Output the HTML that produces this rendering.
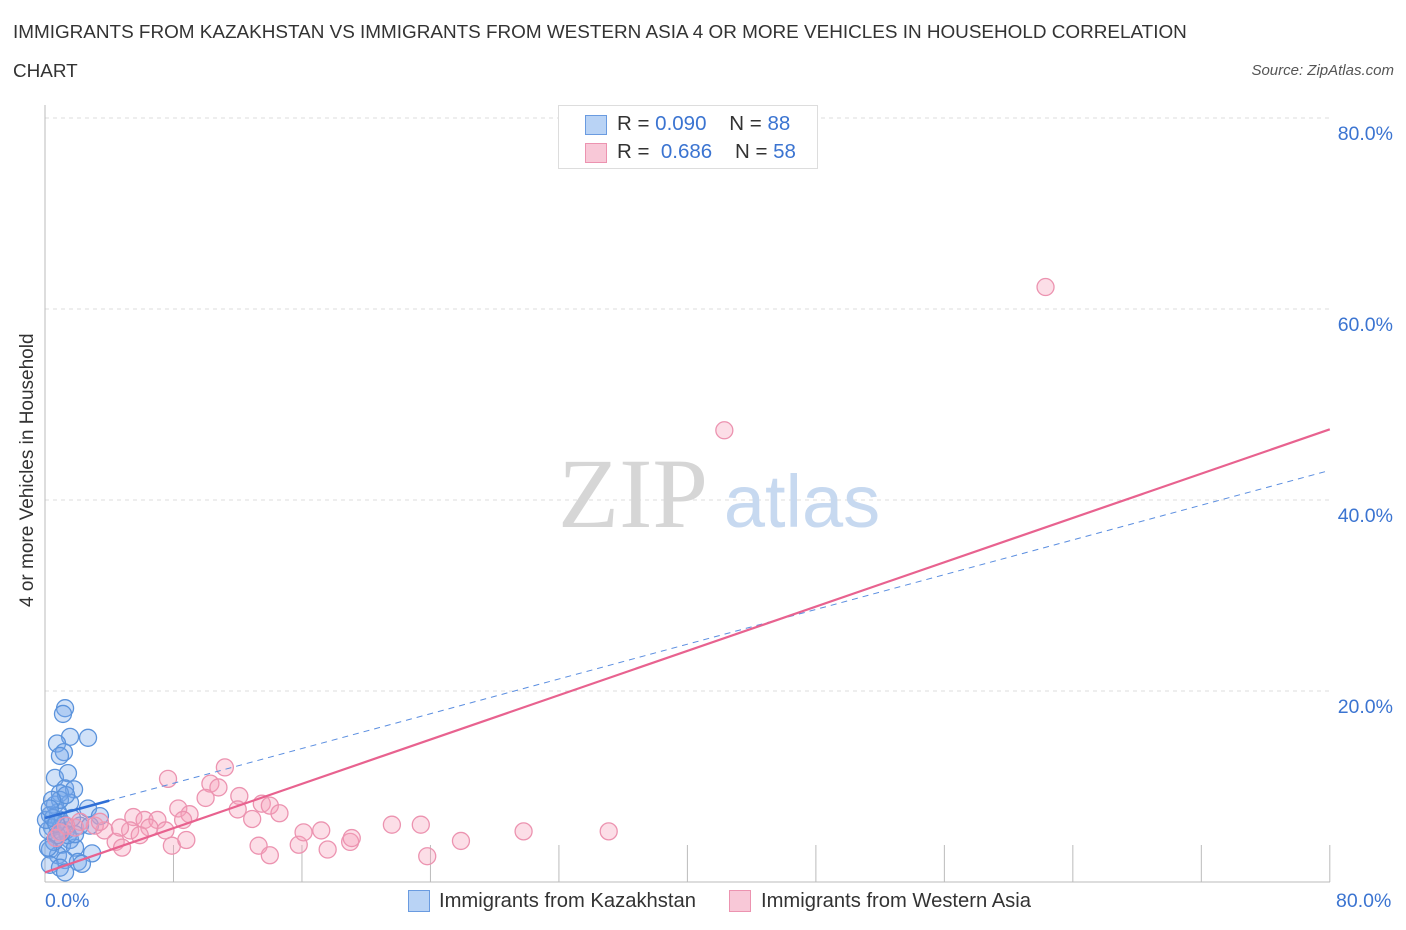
<!DOCTYPE html>
<html><head><meta charset="utf-8"><style>
body{margin:0;background:#fff;font-family:"Liberation Sans",sans-serif;}
#wrap{position:relative;width:1406px;height:930px;overflow:hidden}
.t{position:absolute;color:#333;font-size:18.9px}
</style></head><body><div id="wrap">
<div class="t" style="left:13px;top:22px">IMMIGRANTS FROM KAZAKHSTAN VS IMMIGRANTS FROM WESTERN ASIA 4 OR MORE VEHICLES IN HOUSEHOLD CORRELATION</div>
<div class="t" style="left:13px;top:61px">CHART</div>
<div class="t" style="right:12px;top:62px;font-size:15px;font-style:italic;color:#555">Source: ZipAtlas.com</div>
<svg id="svg" width="1406" height="930" style="position:absolute;left:0;top:0"></svg>
</div>
<script>
const blueX=[1.25,1.12,2.68,1.56,0.75,1.18,0.93,0.62,1.43,1.25,1.81,0.93,1.56,0.62,2.68,3.42,0.31,0.93,0.44,1.31,2.18,0.68,1.56,1.06,0.31,1.87,0.81,2.93,1.25,2.05,0.31,0.93,2.3,1.25,0.19,0.81,1.68,1.18,0.56,1.43,0.06,2.8,0.93,1.31,0.44,0.75,1.06,1.87,0.19,0.5,0.3,0.7];
const blueY=[18.2,17.6,15.1,15.2,14.5,13.6,13.2,10.9,11.4,9.8,9.7,9.3,8.3,8.1,7.7,6.9,7.0,6.5,5.7,5.4,5.9,4.6,4.4,3.9,3.4,3.6,2.8,3.0,2.3,2.1,1.8,1.5,1.9,1.0,5.4,7.3,6.7,6.0,4.2,4.9,6.5,5.9,8.6,9.1,8.6,4.9,5.2,5.0,3.6,6.7,7.7,6.1];
const pinkX=[62.3,42.3,7.66,11.2,10.3,10.8,12.1,10.0,8.3,9.0,13.5,14.0,14.6,12.0,12.9,5.5,6.2,7.0,6.5,7.5,8.6,5.3,3.7,3.1,4.4,4.8,7.9,8.8,13.3,14.0,15.8,16.1,17.2,17.6,19.0,19.1,21.6,23.4,23.8,25.9,29.8,35.1,1.87,2.18,0.93,1.31,0.68,3.42,4.67,5.9];
const pinkY=[62.3,47.3,10.8,12.0,10.3,9.9,9.0,8.8,7.7,7.1,8.2,8.0,7.2,7.6,6.6,6.8,6.5,6.5,5.7,5.4,6.5,5.4,5.4,5.9,4.2,3.6,3.8,4.4,3.8,2.8,3.9,5.2,5.4,3.4,4.2,4.6,6.0,6.0,2.7,4.3,5.3,5.3,5.7,6.3,5.2,5.9,4.6,6.3,5.7,4.9];
const blueTrend=[6.7,43.1];
const pinkTrend=[1.0,47.4];
const yTicks=[20,40,60,80];
const xTicks=[0,8,16,24,32,40,48,56,64,72,80];
const X=v=>45+v*16.06, Y=v=>882-v*9.55;
const svg=document.getElementById('svg');const NS='http://www.w3.org/2000/svg';
function mk(tag,attrs,parent){const e=document.createElementNS(NS,tag);for(const k in attrs)e.setAttribute(k,attrs[k]);(parent||svg).appendChild(e);return e;}
yTicks.forEach(v=>{const l=mk('line',{x1:45,x2:1330,y1:Y(v),y2:Y(v),stroke:'#ddd','stroke-dasharray':'4,4'});


const t=mk('text',{x:1393,y:Y(v)+22,'text-anchor':'end',fill:'#3b74d1','font-size':19.5,'font-family':'Liberation Sans'});t.textContent=v.toFixed(1)+'%';

});
mk('line',{x1:45,x2:45,y1:105,y2:882,stroke:'#bbb'});
mk('line',{x1:45,x2:1330,y1:882,y2:882,stroke:'#bbb'});
xTicks.forEach(v=>{const l=mk('line',{x1:X(v),x2:X(v),y1:845,y2:882,stroke:'#bbb'});

});
const wm=mk('text',{x:633,y:527,'text-anchor':'middle',fill:'#d6d6d6','font-size':100,'font-family':'Liberation Serif'});wm.textContent='ZIP';


const wm2=mk('text',{x:802,y:527,'text-anchor':'middle',fill:'#c7d9f0','font-size':74,'font-family':'Liberation Sans'});wm2.textContent='atlas';


blueX.forEach((v,i)=>{const c=mk('circle',{cx:X(v),cy:Y(blueY[i]),r:8.5,fill:'rgba(120,170,235,0.35)',stroke:'#5b93dc','stroke-width':1.3});

});
pinkX.forEach((v,i)=>{const c=mk('circle',{cx:X(v),cy:Y(pinkY[i]),r:8.5,fill:'rgba(245,160,185,0.35)',stroke:'#ec93b0','stroke-width':1.3});

});
const bt=v=>blueTrend[0]+(blueTrend[1]-blueTrend[0])*v/80;
const bl=mk('line',{x1:X(0),y1:Y(bt(0)),x2:X(80),y2:Y(bt(80)),stroke:'#5b8ee0','stroke-width':1,'stroke-dasharray':'6,5'});


const bs=mk('line',{x1:X(0),y1:Y(bt(0)),x2:X(4),y2:Y(bt(4)),stroke:'#2f6fd6','stroke-width':2.5});


const pl=mk('line',{x1:X(0),y1:Y(pinkTrend[0]),x2:X(80),y2:Y(pinkTrend[1]),stroke:'#e8628f','stroke-width':2.2});


</script>
<div style="position:absolute;left:558px;top:105px;width:258px;height:62px;border:1px solid #ddd;background:#fff;font-size:20.5px;color:#333">
<div style="position:absolute;left:26px;top:9px;width:20px;height:18px;background:#b9d3f5;border:1px solid #6a9be0"></div>
<div style="position:absolute;left:58px;top:6px">R = <span style="color:#3b74d1">0.090</span>&nbsp;&nbsp;&nbsp; N = <span style="color:#3b74d1">88</span></div>
<div style="position:absolute;left:26px;top:37px;width:20px;height:18px;background:#f8c8d7;border:1px solid #ec93b0"></div>
<div style="position:absolute;left:58px;top:34px">R = &nbsp;<span style="color:#3b74d1">0.686</span>&nbsp;&nbsp;&nbsp; N = <span style="color:#3b74d1">58</span></div>
</div>
<div style="position:absolute;left:45px;top:890px;font-size:19.5px;color:#3b74d1">0.0%</div>
<div style="position:absolute;left:1336px;top:890px;font-size:19.5px;color:#3b74d1">80.0%</div>
<div style="position:absolute;left:408px;top:890px;width:20px;height:20px;background:#b9d3f5;border:1px solid #6a9be0"></div>
<div style="position:absolute;left:439px;top:890px;font-size:20.2px;color:#333">Immigrants from Kazakhstan</div>
<div style="position:absolute;left:729px;top:890px;width:20px;height:20px;background:#f8c8d7;border:1px solid #ec93b0"></div>
<div style="position:absolute;left:761px;top:890px;font-size:20.2px;color:#333">Immigrants from Western Asia</div>
<div style="position:absolute;left:-87px;top:481px;transform:rotate(-90deg);width:230px;text-align:center;font-size:19px;color:#333;white-space:nowrap">4 or more Vehicles in Household</div>
</body></html>
